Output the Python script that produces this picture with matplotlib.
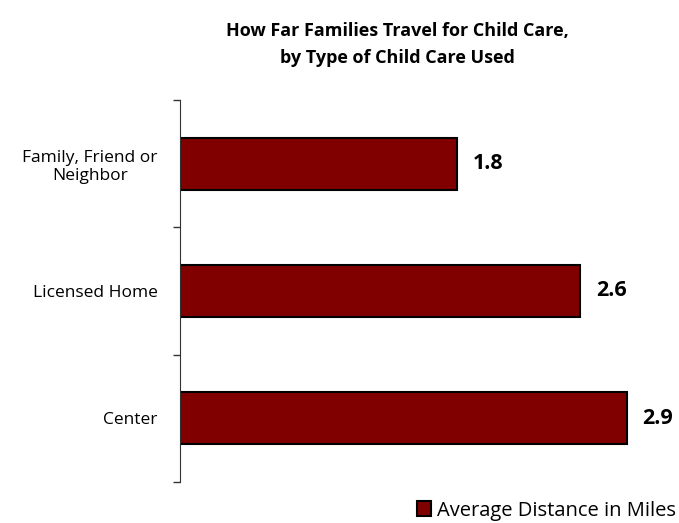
import matplotlib.pyplot as plt
import numpy as np

categories = ["Family, Friend or\nNeighbor", "Licensed Home", "Center"]
miles = [1.8, 2.6, 2.9]
labels = ["1.8", "2.6", "2.9"]

plt.rcParams['font.family'] = ['Open Sans', 'DejaVu Sans']

fig = plt.figure(figsize=(6.79, 5.23), dpi=100)
ax = fig.add_axes([0.265, 0.0784, 0.735, 0.7304])

pos = np.arange(len(categories)) + 0.5
ax.barh(pos, miles, height=0.41, color="#800000", edgecolor="black", linewidth=1.5,
        label="Average Distance in Miles")

for p, v, t in zip(pos, miles, labels):
    ax.text(v + 0.1, p, t, va="center", ha="left", fontsize=15.5, fontweight="bold")

ax.set_ylim(3, 0)
ax.set_xlim(0, 3.24)
ax.set_yticks(pos)
ax.set_yticklabels(categories, fontsize=12.5, ha="right", multialignment="center")
ax.tick_params(axis="y", which="major", length=0, pad=16)
ax.set_yticks([0, 1, 2, 3], minor=True)
ax.tick_params(axis="y", which="minor", length=5, width=1, color="#333333")
ax.set_xticks([])
for s in ["top", "right", "bottom"]:
    ax.spines[s].set_visible(False)
ax.spines["left"].set_color("#333333")

fig.text(0.585, 0.915, "How Far Families Travel for Child Care,\nby Type of Child Care Used",
         ha="center", va="center", fontsize=13, fontweight="bold", linespacing=1.6)

fig.legend(loc="lower right", bbox_to_anchor=(1.022, -0.03), frameon=False, fontsize=14.5,
           handlelength=0.7, handleheight=0.7, handletextpad=0.3)

fig.savefig("out.png", dpi=100)
